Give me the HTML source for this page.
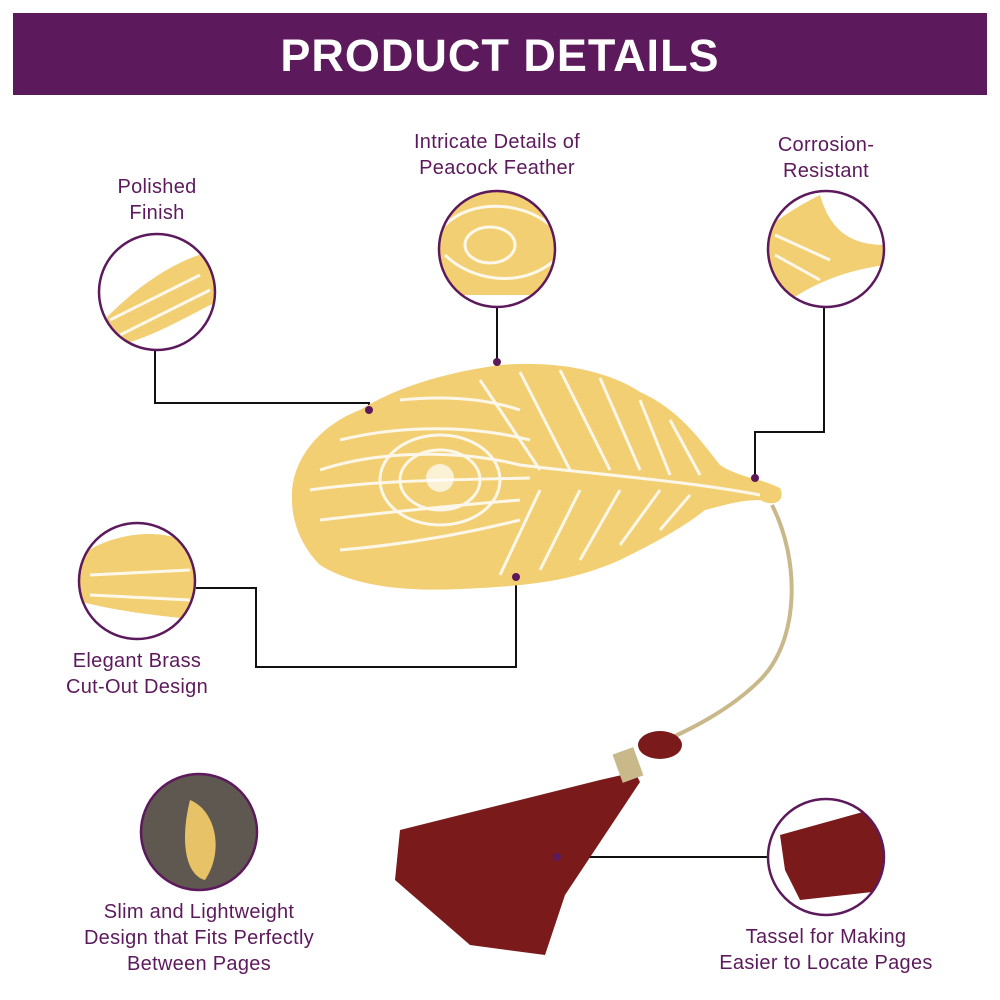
<!DOCTYPE html>
<html><head><style>
body{margin:0;background:#fff;}
svg{display:block;font-family:"Liberation Sans",sans-serif;}
.t{fill:#5c1a5c;font-size:20px;text-anchor:middle;letter-spacing:0.3px;}
.c{fill:none;stroke:#5c1a5c;stroke-width:2.5;}
.l{stroke:#111;stroke-width:2;fill:none;}
.d{fill:#5c1a5c;}
.w{stroke:#fff;stroke-width:3;fill:none;opacity:0.85;}
</style></head><body>
<svg width="1000" height="1000" viewBox="0 0 1000 1000">
<defs>
<clipPath id="c1"><circle cx="157" cy="292" r="58"/></clipPath>
<clipPath id="c2"><circle cx="497" cy="249" r="58"/></clipPath>
<clipPath id="c3"><circle cx="826" cy="249" r="58"/></clipPath>
<clipPath id="c4"><circle cx="137" cy="581" r="58"/></clipPath>
<clipPath id="c6"><circle cx="826" cy="857" r="58"/></clipPath>
</defs>
<rect x="13" y="13" width="974" height="82" fill="#5c1a5c"/>
<text x="500" y="71" fill="#fff" font-size="45" font-weight="bold" text-anchor="middle" letter-spacing="1">PRODUCT DETAILS</text>

<polyline class="l" points="155,351 155,403 369,403 369,410"/>
<line class="l" x1="497" y1="308" x2="497" y2="362"/>
<polyline class="l" points="824,308 824,432 755,432 755,478"/>
<polyline class="l" points="196,588 256,588 256,667 516,667 516,577"/>
<line class="l" x1="557" y1="857" x2="768" y2="857"/>

<path d="M772,505 C800,560 800,640 760,680 C730,710 690,730 655,745" stroke="#c9b88a" stroke-width="4" fill="none"/>
<path d="M292,500 C290,460 320,425 360,410 C400,385 450,372 500,365 C560,360 610,372 640,392 C680,410 700,440 720,465 C740,478 760,478 780,488 C786,500 775,508 760,500 C740,500 725,505 705,510 C680,530 650,545 620,560 C580,578 540,585 480,588 C420,592 360,590 320,565 C300,545 292,520 292,500 Z" fill="#f2cf72"/>
<g class="w">
<path d="M320,470 C380,450 460,450 520,465 C600,475 680,480 760,495"/>
<path d="M310,490 C380,480 450,480 530,478"/>
<path d="M320,520 C390,512 460,505 520,500"/>
<path d="M340,550 C400,545 460,535 520,520"/>
<path d="M340,440 C400,425 470,425 530,440"/>
<path d="M400,400 C450,395 490,400 520,410"/>
<path d="M480,380 L540,470 M520,372 L570,470 M560,370 L610,470 M600,378 L640,470 M640,400 L670,475 M670,420 L700,475 M500,575 L540,490 M540,570 L580,490 M580,560 L620,490 M620,545 L660,490 M660,530 L690,495"/>
<ellipse cx="440" cy="480" rx="40" ry="30"/>
<ellipse cx="440" cy="480" rx="60" ry="45"/>
</g>
<circle cx="440" cy="478" r="14" fill="#fff" opacity="0.7"/>

<path d="M635,772 L600,780 L520,800 L400,830 L395,880 L470,945 L545,955 L565,895 L640,782 Z" fill="#7a1a1a"/>
<ellipse cx="660" cy="745" rx="22" ry="14" fill="#7a1a1a"/>
<rect x="617" y="750" width="22" height="30" fill="#c9b88a" transform="rotate(-20 628 765)"/>

<circle class="d" cx="369" cy="410" r="4"/>
<circle class="d" cx="497" cy="362" r="4"/>
<circle class="d" cx="755" cy="478" r="4"/>
<circle class="d" cx="516" cy="577" r="4"/>
<circle class="d" cx="557" cy="857" r="4"/>

<g clip-path="url(#c1)"><rect x="90" y="230" width="140" height="130" fill="#fff"/><path d="M95,330 C130,290 180,255 220,250 L220,300 C180,320 140,345 95,350 Z" fill="#f2cf72"/><path class="w" d="M110,320 L200,275 M120,335 L210,290"/></g>
<g clip-path="url(#c2)"><rect x="430" y="185" width="140" height="130" fill="#f2cf72"/><path class="w" d="M445,225 C470,200 520,200 550,225 M445,255 C470,280 520,290 555,260"/><ellipse class="w" cx="490" cy="245" rx="25" ry="18"/><rect x="430" y="295" width="140" height="20" fill="#fff"/></g>
<g clip-path="url(#c3)"><rect x="760" y="185" width="140" height="130" fill="#fff"/><path d="M765,230 C790,210 810,200 820,195 C830,230 850,245 885,245 L885,265 C850,270 820,280 790,300 L765,300 Z" fill="#f2cf72"/><path class="w" d="M775,235 L830,260 M775,255 L820,280"/></g>
<g clip-path="url(#c4)"><rect x="70" y="515" width="140" height="130" fill="#fff"/><path d="M75,560 C110,530 170,525 200,550 L200,620 C150,615 110,610 75,600 Z" fill="#f2cf72"/><path class="w" d="M90,575 L190,570 M90,595 L190,600"/></g>
<circle cx="199" cy="832" r="58" fill="#5e5850"/>
<path d="M190,800 C215,810 225,850 205,880 C185,875 180,840 190,800 Z" fill="#e8c266"/>
<g clip-path="url(#c6)"><rect x="760" y="795" width="140" height="130" fill="#fff"/><path d="M780,835 L870,810 L890,810 L890,890 L800,900 L785,870 Z" fill="#7a1a1a"/></g>
<circle class="c" cx="157" cy="292" r="58"/>
<circle class="c" cx="497" cy="249" r="58"/>
<circle class="c" cx="826" cy="249" r="58"/>
<circle class="c" cx="137" cy="581" r="58"/>
<circle class="c" cx="199" cy="832" r="58"/>
<circle class="c" cx="826" cy="857" r="58"/>

<text class="t" x="157" y="193">Polished</text><text class="t" x="157" y="219">Finish</text>
<text class="t" x="497" y="148">Intricate Details of</text><text class="t" x="497" y="174">Peacock Feather</text>
<text class="t" x="826" y="151">Corrosion-</text><text class="t" x="826" y="177">Resistant</text>
<text class="t" x="137" y="667">Elegant Brass</text><text class="t" x="137" y="693">Cut-Out Design</text>
<text class="t" x="199" y="918">Slim and Lightweight</text><text class="t" x="199" y="944">Design that Fits Perfectly</text><text class="t" x="199" y="970">Between Pages</text>
<text class="t" x="826" y="943">Tassel for Making</text><text class="t" x="826" y="969">Easier to Locate Pages</text>
</svg>
</body></html>
